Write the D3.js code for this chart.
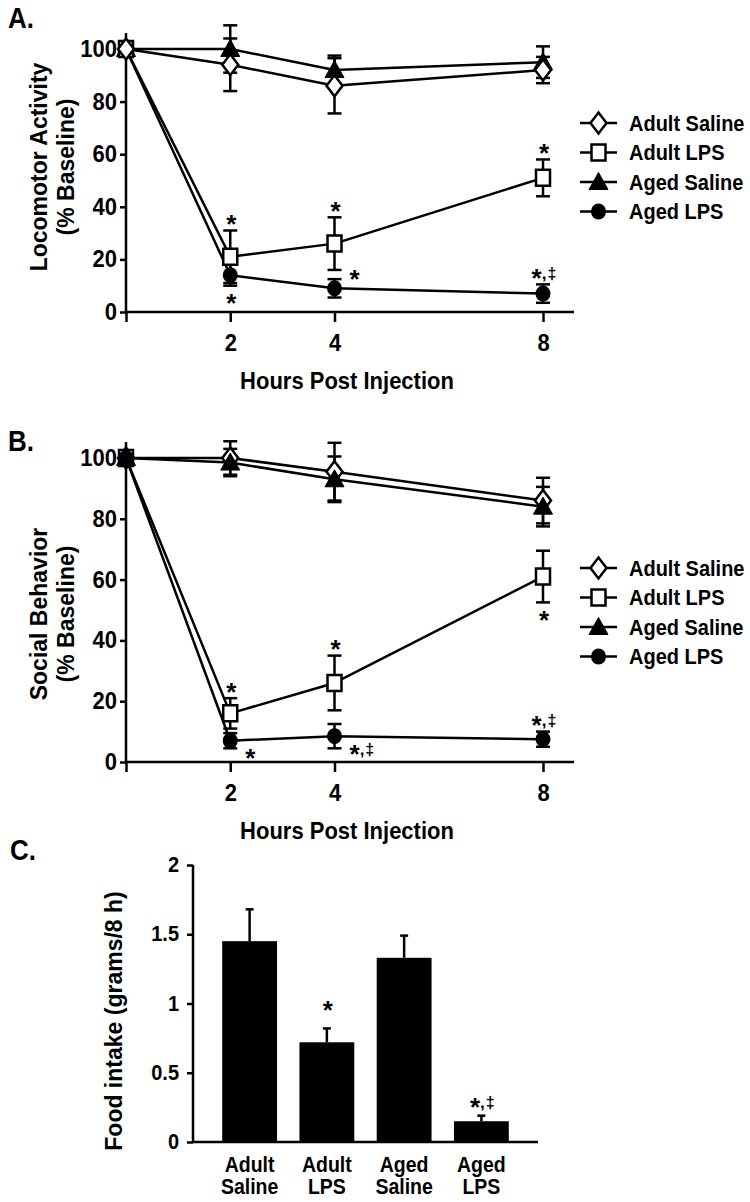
<!DOCTYPE html>
<html><head><meta charset="utf-8">
<script src="https://cdn.jsdelivr.net/npm/d3@7"></script>
<style>
body{margin:0;background:#fff}
svg text{font-family:"Liberation Sans",Arial,Helvetica,sans-serif;font-weight:bold;fill:#000}
</style>
</head><body>
<svg id="c" width="750" height="1202"></svg>
<script>
// ---------- data ----------
const hours = [0, 2, 4, 8];
const hourTicks = [2, 4, 8];
const seriesNames = ["Adult Saline", "Adult LPS", "Aged Saline", "Aged LPS"];
const seriesMarkers = ["diamond", "square", "triangle", "circle"];
const percentTicks = [0, 20, 40, 60, 80, 100];

// Panel A: Locomotor activity (% baseline)
const locoAdultSaline = [100, 94, 86, 92];
const locoAdultSalineSem = [0, 10, 10.5, 5];
const locoAdultLPS = [100, 21, 26, 51];
const locoAdultLPSSem = [0, 10, 10, 7];
const locoAgedSaline = [100, 100, 92, 95];
const locoAgedSalineSem = [0, 9, 5.5, 6];
const locoAgedLPS = [100, 14, 9, 7];
const locoAgedLPSSem = [0, 4, 3.5, 3.5];
const locoMarks = [
  {series: 1, hour: 2, label: "*", place: "above"},
  {series: 3, hour: 2, label: "*", place: "below"},
  {series: 1, hour: 4, label: "*", place: "above"},
  {series: 3, hour: 4, label: "*", place: "right-up"},
  {series: 1, hour: 8, label: "*", place: "above"},
  {series: 3, hour: 8, label: "*,‡", place: "above"}
];

// Panel B: Social behavior (% baseline)
const socAdultSaline = [100, 100, 95.5, 86];
const socAdultSalineSem = [0, 5.5, 9.5, 7.5];
const socAdultLPS = [100, 16, 26, 61];
const socAdultLPSSem = [0, 5, 9, 8.5];
const socAgedSaline = [100, 98.5, 93, 84];
const socAgedSalineSem = [0, 4.5, 7.5, 6.5];
const socAgedLPS = [100, 7, 8.5, 7.5];
const socAgedLPSSem = [0, 2.5, 4, 2.5];
const socMarks = [
  {series: 1, hour: 2, label: "*", place: "above"},
  {series: 3, hour: 2, label: "*", place: "right-down"},
  {series: 1, hour: 4, label: "*", place: "above"},
  {series: 3, hour: 4, label: "*,‡", place: "right-down"},
  {series: 1, hour: 8, label: "*", place: "below"},
  {series: 3, hour: 8, label: "*,‡", place: "above"}
];

// Panel C: Food intake (grams / 8 h)
const foodGroupLines = [["Adult", "Saline"], ["Adult", "LPS"], ["Aged", "Saline"], ["Aged", "LPS"]];
const foodIntake = [1.45, 0.72, 1.33, 0.15];
const foodSem = [0.23, 0.10, 0.16, 0.04];
const foodTicks = [0, 0.5, 1, 1.5, 2];
const foodTickLabels = ["0", "0.5", "1", "1.5", "2"];
const foodMarks = [
  {group: 1, label: "*", place: "above-far"},
  {group: 3, label: "*,‡", place: "above"}
];

// ---------- drawing ----------
const svg = d3.select("#c");
const LW = 2.5;
const STRETCH = 1.12;

// vertical stretch of a horizontal text about its baseline
function stretch(t) {
  const y = +t.attr("y") || 0;
  t.attr("transform", `translate(0,${y}) scale(1,${STRETCH}) translate(0,${-y})`);
  return t;
}

function drawMarker(g, type, cx, cy) {
  if (type === "circle") {
    g.append("ellipse").attr("cx", cx).attr("cy", cy).attr("rx", 7.5).attr("ry", 8).attr("fill", "#000");
    return;
  }
  const paths = {
    diamond: "M0,-10.5L8,0L0,10.5L-8,0Z",
    square: "M-7,-8H7V8H-7Z",
    triangle: "M0,-9.5L9.5,7.5L-9.5,7.5Z"
  };
  g.append("path").attr("d", paths[type])
    .attr("transform", `translate(${cx},${cy})`)
    .attr("fill", type === "triangle" ? "#000" : "#fff")
    .attr("stroke", "#000")
    .attr("stroke-width", type === "triangle" ? 1 : LW)
    .attr("stroke-linejoin", "miter");
}

// mark text: asterisk centred on (cx,cy)
function drawMark(g, label, cx, cy, anchor) {
  const t = g.append("text").attr("x", cx).attr("y", cy + 14.5).attr("text-anchor", anchor);
  t.append("tspan").attr("font-size", 26).text("*");
  if (label.length > 1) {
    t.append("tspan").attr("font-size", 17).attr("dy", -8).text(label.slice(1, 2));
    t.append("tspan").attr("font-size", 16).attr("dx", 1).text(label.slice(2));
  }
}

function styleAxis(a, fs) {
  a.attr("font-size", null).attr("font-family", null);
  a.selectAll("line").attr("stroke", "#000").attr("stroke-width", LW);
  a.selectAll("text").attr("font-size", fs).attr("fill", "#000");
}

function linePanel(cfg) {
  const g = svg.append("g");
  const x = d3.scaleLinear().domain([0, 8]).range([126, 543]);
  const y = d3.scaleLinear().domain([0, 100]).range([cfg.yZero, cfg.yHundred]);

  // y axis
  const ya = g.append("g").attr("transform", `translate(${x(0)},0)`)
    .call(d3.axisLeft(y).tickValues(percentTicks).tickSize(6).tickPadding(3).tickSizeOuter(0));
  ya.select(".domain").remove();
  styleAxis(ya, 22);
  ya.selectAll(".tick text").attr("transform", `scale(1,${STRETCH})`).attr("dy", "0.3em");
  g.append("line").attr("x1", x(0)).attr("x2", x(0)).attr("y1", y(0)).attr("y2", cfg.yTop)
    .attr("stroke", "#000").attr("stroke-width", LW);

  // x axis
  const xa = g.append("g").attr("transform", `translate(0,${y(0)})`)
    .call(d3.axisBottom(x).tickValues([0].concat(hourTicks)).tickFormat(d => d === 0 ? "" : d)
      .tickSize(10).tickPadding(9).tickSizeOuter(0));
  xa.select(".domain").remove();
  styleAxis(xa, 22);
  xa.selectAll(".tick text").attr("transform", `scale(1,${STRETCH})`);
  g.append("line").attr("x1", x(0) - 1).attr("x2", x(8) + 31).attr("y1", y(0)).attr("y2", y(0))
    .attr("stroke", "#000").attr("stroke-width", LW);

  // lines
  const line = d3.line().x((d, i) => x(hours[i])).y(d => y(d));
  cfg.series.forEach(s => {
    g.append("path").attr("d", line(s.vals)).attr("fill", "none")
      .attr("stroke", "#000").attr("stroke-width", LW).attr("stroke-linejoin", "round");
  });
  // error bars
  cfg.series.forEach(s => {
    s.vals.forEach((v, i) => {
      const e = s.sem[i];
      if (!e) return;
      const cx = x(hours[i]);
      g.append("line").attr("x1", cx).attr("x2", cx).attr("y1", y(v - e)).attr("y2", y(v + e))
        .attr("stroke", "#000").attr("stroke-width", LW);
      [v - e, v + e].forEach(vv => {
        g.append("line").attr("x1", cx - 7).attr("x2", cx + 7).attr("y1", y(vv)).attr("y2", y(vv))
          .attr("stroke", "#000").attr("stroke-width", LW);
      });
    });
  });
  // markers
  cfg.markerOrder.forEach(si => {
    const s = cfg.series[si];
    s.vals.forEach((v, i) => drawMarker(g, seriesMarkers[si], x(hours[i]), y(v)));
  });
  // significance marks
  cfg.marks.forEach(m => {
    const s = cfg.series[m.series];
    const i = hours.indexOf(m.hour);
    const v = s.vals[i], e = s.sem[i];
    const cx = x(m.hour);
    if (m.place === "above") drawMark(g, m.label, cx + 1, y(v + e) - 12, "middle");
    else if (m.place === "below") drawMark(g, m.label, cx + 1, y(v - e) + 12, "middle");
    else if (m.place === "right-up") drawMark(g, m.label, cx + 15, y(v) - 15, "start");
    else if (m.place === "right-down") drawMark(g, m.label, cx + 15, y(v) + 12, "start");
  });

  // legend
  seriesNames.forEach((name, i) => {
    const ly = cfg.legendTop + i * 29.5;
    g.append("line").attr("x1", 580).attr("x2", 617).attr("y1", ly).attr("y2", ly)
      .attr("stroke", "#000").attr("stroke-width", LW);
    drawMarker(g, seriesMarkers[i], 598.5, ly);
    stretch(g.append("text").attr("x", 629).attr("y", ly + 8).attr("font-size", 20).text(name));
  });

  // axis titles
  g.append("text").attr("transform", `translate(47,${cfg.titleY}) rotate(-90)`)
    .attr("text-anchor", "middle").attr("font-size", 23).text(cfg.yTitle);
  g.append("text").attr("transform", `translate(74,${cfg.titleY}) rotate(-90)`)
    .attr("text-anchor", "middle").attr("font-size", 23).text("(% Baseline)");
  stretch(g.append("text").attr("x", 347).attr("y", y(0) + 77).attr("text-anchor", "middle")
    .attr("font-size", 22).text("Hours Post Injection"));
  // panel letter
  stretch(g.append("text").attr("x", 8).attr("y", cfg.letterY).attr("font-size", 26).text(cfg.letter));
}

linePanel({
  letter: "A.", letterY: 28,
  yZero: 312, yHundred: 49, yTop: 33,
  yTitle: "Locomotor Activity", titleY: 167,
  legendTop: 123,
  series: [
    {vals: locoAdultSaline, sem: locoAdultSalineSem},
    {vals: locoAdultLPS, sem: locoAdultLPSSem},
    {vals: locoAgedSaline, sem: locoAgedSalineSem},
    {vals: locoAgedLPS, sem: locoAgedLPSSem}
  ],
  markerOrder: [3, 2, 1, 0],
  marks: locoMarks
});

linePanel({
  letter: "B.", letterY: 451,
  yZero: 762, yHundred: 458, yTop: 442,
  yTitle: "Social Behavior", titleY: 614,
  legendTop: 568,
  series: [
    {vals: socAdultSaline, sem: socAdultSalineSem},
    {vals: socAdultLPS, sem: socAdultLPSSem},
    {vals: socAgedSaline, sem: socAgedSalineSem},
    {vals: socAgedLPS, sem: socAgedLPSSem}
  ],
  markerOrder: [0, 1, 2, 3],
  marks: socMarks
});

// Panel C
(function () {
  const g = svg.append("g");
  const y = d3.scaleLinear().domain([0, 2]).range([1142, 865]);
  const x = d3.scaleBand().domain(d3.range(foodIntake.length)).range([211, 520])
    .paddingInner(0.29).paddingOuter(0.145);
  const axisX = 193;

  const ya = g.append("g").attr("transform", `translate(${axisX},0)`)
    .call(d3.axisLeft(y).tickValues(foodTicks).tickFormat((d, i) => foodTickLabels[i])
      .tickSize(6).tickPadding(8).tickSizeOuter(0));
  ya.select(".domain").remove();
  styleAxis(ya, 20);
  ya.selectAll(".tick text").attr("transform", `scale(1,${STRETCH})`).attr("dy", "0.3em");
  g.append("line").attr("x1", axisX).attr("x2", axisX).attr("y1", y(0) + 1).attr("y2", y(2))
    .attr("stroke", "#000").attr("stroke-width", LW);
  g.append("line").attr("x1", axisX - 1).attr("x2", 538).attr("y1", y(0)).attr("y2", y(0))
    .attr("stroke", "#000").attr("stroke-width", LW);

  foodIntake.forEach((v, i) => {
    const cx = x(i) + x.bandwidth() / 2;
    g.append("line").attr("x1", cx).attr("x2", cx).attr("y1", y(v)).attr("y2", y(v + foodSem[i]))
      .attr("stroke", "#000").attr("stroke-width", LW);
    g.append("line").attr("x1", cx - 4).attr("x2", cx + 4).attr("y1", y(v + foodSem[i])).attr("y2", y(v + foodSem[i]))
      .attr("stroke", "#000").attr("stroke-width", LW);
    g.append("rect").attr("x", x(i)).attr("y", y(v)).attr("width", x.bandwidth())
      .attr("height", y(0) - y(v)).attr("fill", "#000");
    foodGroupLines[i].forEach((t, k) => {
      stretch(g.append("text").attr("x", cx).attr("y", 1172 + k * 22).attr("text-anchor", "middle")
        .attr("font-size", 19.5).text(t));
    });
  });

  foodMarks.forEach(m => {
    const cx = x(m.group) + x.bandwidth() / 2;
    const top = y(foodIntake[m.group] + foodSem[m.group]);
    drawMark(g, m.label, cx + 1, top - (m.place === "above-far" ? 24 : 14), "middle");
  });

  g.append("text").attr("transform", `translate(122,1021) rotate(-90)`).attr("text-anchor", "middle")
    .attr("font-size", 23).text("Food intake (grams/8 h)");
  stretch(g.append("text").attr("x", 10).attr("y", 860).attr("font-size", 26).text("C."));
})();
</script>
</body></html>
